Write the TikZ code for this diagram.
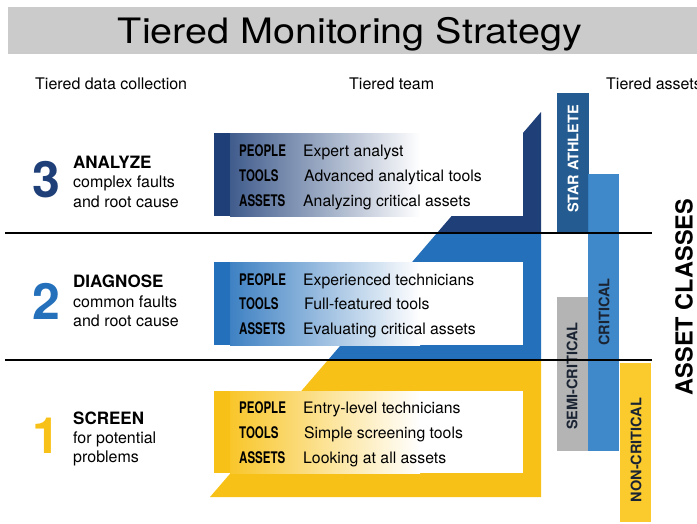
\documentclass[tikz,border=0pt]{standalone}
\usepackage{fontspec}
\setmainfont{TeX Gyre Heros}
\newfontfamily\condfont[FakeStretch=0.72]{TeX Gyre Heros}
\usetikzlibrary{positioning}
\definecolor{navy}{HTML}{1E3F78}
\definecolor{midblue}{HTML}{2470BB}
\definecolor{gold}{HTML}{F8C118}
\definecolor{starblue}{HTML}{245B90}
\definecolor{critblue}{HTML}{3583C8}
\definecolor{semigray}{HTML}{B4B4B4}
\definecolor{noncrit}{HTML}{FBCB2E}
\definecolor{titlegray}{HTML}{CBCBCB}
\definecolor{inktext}{HTML}{1B2433}
\begin{document}
\begin{tikzpicture}[x=1pt,y=-1pt,
  lbl/.style={anchor=base west,inner sep=0pt,font=\condfont\bfseries\fontsize{16}{16}\selectfont},
  desc/.style={anchor=base west,inner sep=0pt,font=\fontsize{15.8}{16}\selectfont},
  head/.style={anchor=base west,inner sep=0pt,font=\fontsize{16}{16}\selectfont},
  tierhead/.style={anchor=base west,inner sep=0pt,font=\bfseries\fontsize{17}{17}\selectfont},
  tiertext/.style={anchor=base west,inner sep=0pt,font=\fontsize{16}{16}\selectfont},
  num/.style={anchor=base,inner sep=0pt,font=\bfseries\fontsize{50}{50}\selectfont},
  cls/.style={rotate=90,inner sep=0pt,text=inktext,font=\bfseries\fontsize{14.5}{15}\selectfont}]
\useasboundingbox (0,0) rectangle (697,523);
\fill[titlegray] (8,7) rectangle (697,54);
\node[anchor=base,inner sep=0pt] (title) at (350,43)
  {\scalebox{1.13}[1]{\fontsize{35}{35}\selectfont Tiered Monitoring Strategy}};
\node[head] (colleft) at (35,89) {Tiered data collection};
\node[head] (colmid) at (349,89) {Tiered team};
\node[head] (colright) at (606,89) {Tiered assets};
% big wedge behind the team boxes
\fill[navy] (541,112) -- (541,233) -- (437,233) -- cycle;
\fill[midblue] (437,233) -- (541,233) -- (541,360) -- (328,360) -- cycle;
\fill[gold] (328,360) -- (541,360) -- (541,497) -- (210,497) -- cycle;
\fill[white] (214,133) rectangle (523,216);
\fill[navy] (214,133) rectangle (230,216);
\shade[left color=navy!85!white,middle color=navy!28!white,right color=white] (230,133) rectangle (420,216);
\fill[white] (214,262) rectangle (523,345);
\fill[midblue] (214,262) rectangle (230,345);
\shade[left color=midblue!88!white,middle color=midblue!30!white,right color=white] (230,262) rectangle (420,345);
\fill[white] (214,391) rectangle (523,473);
\fill[gold] (214,391) rectangle (230,473);
\shade[left color=gold!92!white,middle color=gold!35!white,right color=white] (230,391) rectangle (420,473);
\node[lbl] (p3) at (239,156) {PEOPLE};
\node[desc] (p3d) at (303,156) {Expert analyst};
\node[lbl] (t3) at (239,181) {TOOLS};
\node[desc] (t3d) at (304,181) {Advanced analytical tools};
\node[lbl] (a3) at (239,206) {ASSETS};
\node[desc] (a3d) at (303,206) {Analyzing critical assets};
\node[lbl] (p2) at (239,285) {PEOPLE};
\node[desc] (p2d) at (303,285) {Experienced technicians};
\node[lbl] (t2) at (239,309) {TOOLS};
\node[desc] (t2d) at (304,309) {Full-featured tools};
\node[lbl] (a2) at (239,334) {ASSETS};
\node[desc] (a2d) at (303,334) {Evaluating critical assets};
\node[lbl] (p1) at (239,413) {PEOPLE};
\node[desc] (p1d) at (303,413) {Entry-level technicians};
\node[lbl] (t1) at (239,438) {TOOLS};
\node[desc] (t1d) at (304,438) {Simple screening tools};
\node[lbl] (a1) at (239,463) {ASSETS};
\node[desc] (a1d) at (303,463) {Looking at all assets};
\node[num,text=navy] (n3) at (46,197) {3};
\node[tierhead] (h3) at (73,168) {ANALYZE};
\node[tiertext] (h3a) at (73,187) {complex faults};
\node[tiertext] (h3b) at (73,207) {and root cause};
\node[num,text=midblue] (n2) at (46,319) {2};
\node[tierhead] (h2) at (73,287) {DIAGNOSE};
\node[tiertext] (h2a) at (73,307) {common faults};
\node[tiertext] (h2b) at (73,326) {and root cause};
\node[num,text=gold] (n1) at (46,453) {1};
\node[tierhead] (h1) at (73,424) {SCREEN};
\node[tiertext] (h1a) at (73,443) {for potential};
\node[tiertext] (h1b) at (73,462) {problems};
% asset classes
\fill[starblue] (557,93) rectangle (589,233);
\fill[semigray] (557,297) rectangle (588,451);
\fill[critblue,opacity=.95] (588,174) rectangle (619,451);
\fill[noncrit] (620,363) rectangle (651,522);
\node[cls,text=white] (star) at (573,159) {STAR ATHLETE};
\node[cls] (crit) at (604,312) {CRITICAL};
\node[cls] (semi) at (572,376) {SEMI-CRITICAL};
\node[cls] (noncr) at (636,450) {NON-CRITICAL};
\node[rotate=90,inner sep=0pt,font=\bfseries\fontsize{23.5}{24}\selectfont] (classes) at (684,297) {ASSET CLASSES};
\draw[line width=2.2pt]
  (5,233) -- (652,233)
  (5,360) -- (652,360);
\end{tikzpicture}
\end{document}
